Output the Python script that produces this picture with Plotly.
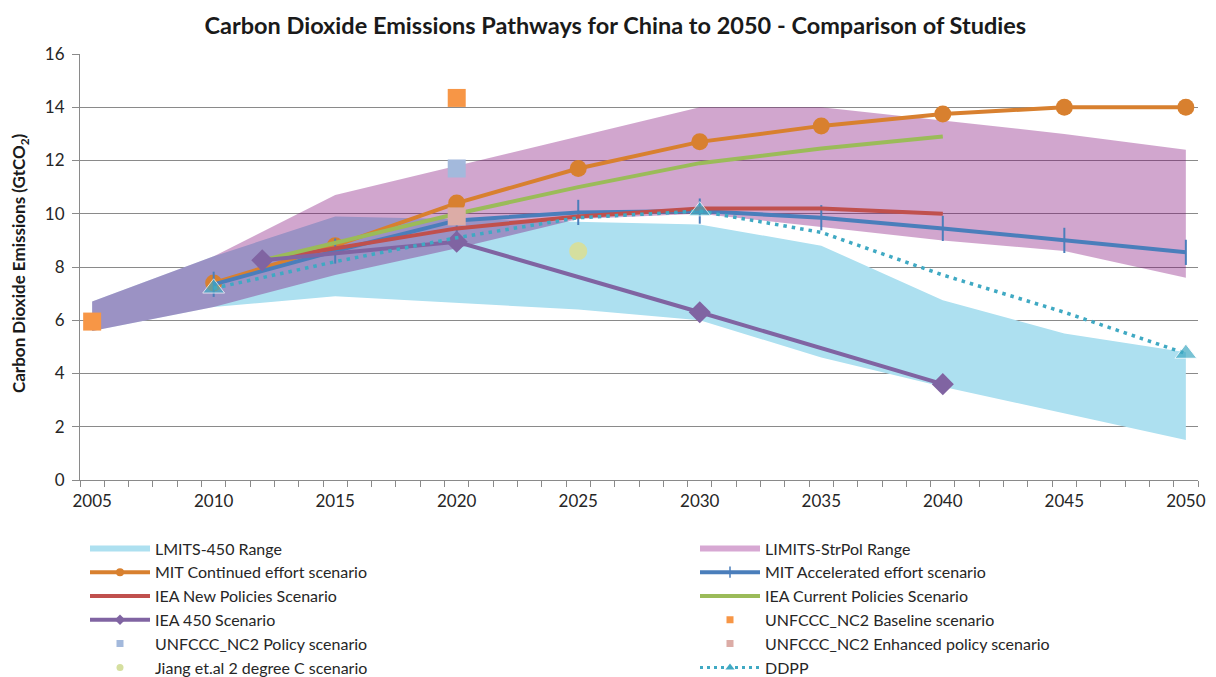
import plotly.graph_objects as go

# ---------------- data ----------------
years5 = [2005, 2010, 2015, 2020, 2025, 2030, 2035, 2040, 2045, 2050]

lmits450_low = [5.6, 6.5, 6.9, 6.65, 6.4, 6.0, 4.6, 3.5, 2.5, 1.5]
lmits450_high = [6.7, 8.4, 9.9, 9.8, 9.7, 9.6, 8.8, 6.75, 5.5, 4.8]

strpol_low = [5.6, 6.5, 7.7, 8.7, 9.8, 10.0, 9.5, 9.0, 8.6, 7.6]
strpol_high = [6.7, 8.4, 10.7, 11.8, 12.9, 14.0, 14.0, 13.5, 13.0, 12.4]

mit_years = [2010, 2015, 2020, 2025, 2030, 2035, 2040, 2045, 2050]
mit_continued = [7.4, 8.8, 10.4, 11.7, 12.7, 13.3, 13.75, 14.0, 14.0]
mit_accelerated = [7.35, 8.6, 9.75, 10.05, 10.1, 9.85, 9.45, 9.0, 8.55]

iea_years = [2012, 2020, 2025, 2030, 2035, 2040]
iea_new = [8.25, 9.45, 9.9, 10.2, 10.2, 10.0]
iea_current = [8.25, 10.0, 11.0, 11.9, 12.45, 12.9]

iea450_years = [2012, 2020, 2030, 2040]
iea450 = [8.25, 8.95, 6.3, 3.6]

unfccc_base_years = [2005, 2020]
unfccc_base = [5.95, 14.35]
unfccc_policy_years = [2020]
unfccc_policy = [11.7]
unfccc_enh_years = [2020]
unfccc_enh = [9.9]
jiang_years = [2025]
jiang = [8.6]

ddpp_years = [2010, 2015, 2020, 2025, 2030, 2035, 2040, 2045, 2050]
ddpp = [7.2, 8.2, 9.1, 9.85, 10.1, 9.3, 7.7, 6.3, 4.75]
ddpp_marked = [True, False, False, False, True, False, False, False, True]

x_tick_years = [2005, 2010, 2015, 2020, 2025, 2030, 2035, 2040, 2045, 2050]

# ---------------- styles ----------------
C_BLUE_AREA = "#ade0f0"
C_PINK_AREA = "rgba(122,0,114,0.35)"
C_MIT_C = "#d8802f"
C_MIT_A = "#4a7ebb"
C_IEA_N = "#c0504d"
C_IEA_C = "#9bbb59"
C_IEA_450 = "#8064a2"
C_UN_B = "#f79646"
C_UN_P = "#a3b9dc"
C_UN_E = "#dcaca6"
C_JIANG = "#d5df9f"
C_DDPP = "#3fa9c3"
FONT = "Lato"

fig = go.Figure()

# range areas
fig.add_trace(go.Scatter(x=years5, y=lmits450_low, mode="lines", line=dict(width=0),
                         showlegend=False, hoverinfo="skip"))
fig.add_trace(go.Scatter(x=years5, y=lmits450_high, mode="lines", line=dict(width=0),
                         fill="tonexty", fillcolor=C_BLUE_AREA, showlegend=False))
fig.add_trace(go.Scatter(x=years5, y=strpol_low, mode="lines", line=dict(width=0),
                         showlegend=False, hoverinfo="skip"))
fig.add_trace(go.Scatter(x=years5, y=strpol_high, mode="lines", line=dict(width=0),
                         fill="tonexty", fillcolor=C_PINK_AREA, showlegend=False))

# lines
fig.add_trace(go.Scatter(x=mit_years, y=mit_continued, mode="lines+markers",
                         line=dict(color=C_MIT_C, width=4),
                         marker=dict(symbol="circle", size=17, color=C_MIT_C),
                         showlegend=False))
fig.add_trace(go.Scatter(x=mit_years, y=mit_accelerated, mode="lines+markers",
                         line=dict(color=C_MIT_A, width=4),
                         marker=dict(symbol="line-ns-open", size=18,
                                     line=dict(color=C_MIT_A, width=2)),
                         showlegend=False))
fig.add_trace(go.Scatter(x=iea_years, y=iea_new, mode="lines",
                         line=dict(color=C_IEA_N, width=4), showlegend=False))
fig.add_trace(go.Scatter(x=iea_years, y=iea_current, mode="lines",
                         line=dict(color=C_IEA_C, width=4), showlegend=False))
fig.add_trace(go.Scatter(x=iea450_years, y=iea450, mode="lines+markers",
                         line=dict(color=C_IEA_450, width=4),
                         marker=dict(symbol="diamond", size=17, color=C_IEA_450),
                         showlegend=False))
fig.add_trace(go.Scatter(x=unfccc_base_years, y=unfccc_base, mode="markers",
                         marker=dict(symbol="square", size=18, color=C_UN_B), showlegend=False))
fig.add_trace(go.Scatter(x=unfccc_policy_years, y=unfccc_policy, mode="markers",
                         marker=dict(symbol="square", size=18, color=C_UN_P), showlegend=False))
fig.add_trace(go.Scatter(x=unfccc_enh_years, y=unfccc_enh, mode="markers",
                         marker=dict(symbol="square", size=18, color=C_UN_E), showlegend=False))
fig.add_trace(go.Scatter(x=jiang_years, y=jiang, mode="markers",
                         marker=dict(symbol="circle", size=18, color=C_JIANG), showlegend=False))
fig.add_trace(go.Scatter(x=ddpp_years, y=ddpp, mode="lines+markers",
                         line=dict(color=C_DDPP, width=3.5, dash="3.5px,5px"),
                         marker=dict(symbol="triangle-up",
                                     size=[19 if m else 0 for m in ddpp_marked],
                                     color=C_DDPP),
                         showlegend=False))

# legend entries: left column -> legend, right column -> legend2
def leg(name, which, **kw):
    fig.add_trace(go.Scatter(x=[None], y=[None], name=name, showlegend=True,
                             legend=which, **kw))

leg("LMITS-450 Range", "legend", mode="none", fill="toself", fillcolor=C_BLUE_AREA)
leg("MIT Continued effort scenario", "legend", mode="lines+markers",
    line=dict(color=C_MIT_C, width=4), marker=dict(size=8, color=C_MIT_C))
leg("IEA New Policies Scenario", "legend", mode="lines", line=dict(color=C_IEA_N, width=4))
leg("IEA 450 Scenario", "legend", mode="lines+markers", line=dict(color=C_IEA_450, width=4),
    marker=dict(symbol="diamond", size=8, color=C_IEA_450))
leg("UNFCCC_NC2 Policy scenario", "legend", mode="markers",
    marker=dict(symbol="square", size=7, color=C_UN_P))
leg("Jiang et.al 2 degree C scenario", "legend", mode="markers",
    marker=dict(symbol="circle", size=7, color=C_JIANG))

leg("LIMITS-StrPol Range", "legend2", mode="none", fill="toself", fillcolor="#d7a8d3")
leg("MIT Accelerated effort scenario", "legend2", mode="lines+markers",
    line=dict(color=C_MIT_A, width=4),
    marker=dict(symbol="line-ns-open", size=8, line=dict(color=C_MIT_A, width=1.5)))
leg("IEA Current Policies Scenario", "legend2", mode="lines", line=dict(color=C_IEA_C, width=4))
leg("UNFCCC_NC2 Baseline scenario", "legend2", mode="markers",
    marker=dict(symbol="square", size=7, color=C_UN_B))
leg("UNFCCC_NC2 Enhanced policy scenario", "legend2", mode="markers",
    marker=dict(symbol="square", size=7, color=C_UN_E))
leg("DDPP", "legend2", mode="lines+markers", line=dict(color=C_DDPP, width=3, dash="3px,4px"),
    marker=dict(symbol="triangle-up", size=8, color=C_DDPP))

AX_GRAY = "#8a8a8a"
LEG_COMMON = dict(orientation="v", xanchor="left", yanchor="top",
                  xref="container", yref="container", traceorder="normal",
                  itemwidth=60, font=dict(family=FONT, size=16, color="#262626"),
                  bgcolor="rgba(0,0,0,0)", borderwidth=0)

fig.update_layout(
    width=1216, height=677,
    margin=dict(l=80, r=18, t=54, b=197, autoexpand=False),
    paper_bgcolor="white", plot_bgcolor="white",
    font=dict(family=FONT, size=17, color="#262626"),
    title=dict(text="<b>Carbon Dioxide Emissions Pathways for China to 2050 - Comparison of Studies</b>",
               x=0.506, xanchor="center", y=0.962, yanchor="middle",
               font=dict(family=FONT, size=23.5, color="#1a1a1a")),
    xaxis=dict(range=[2004.5, 2050.5], tickmode="array", tickvals=x_tick_years,
               ticks="", showgrid=False, zeroline=False, tickangle=0,
               showline=True, linecolor=AX_GRAY, linewidth=1,
               minor=dict(ticks="outside", tick0=2004.5, dtick=1, ticklen=6,
                          tickcolor=AX_GRAY, showgrid=False),
               tickfont=dict(size=17), ticklabelstandoff=6),
    yaxis=dict(range=[0, 16], dtick=2, tick0=0, showgrid=True, gridcolor=AX_GRAY, gridwidth=1,
               zeroline=False, showline=True, linecolor=AX_GRAY, linewidth=1,
               ticks="outside", ticklen=7, tickcolor=AX_GRAY,
               tickfont=dict(size=17), ticklabelstandoff=4),
    legend=dict(x=85 / 1216, y=1 - 531.5 / 677, **LEG_COMMON),
    legend2=dict(x=695 / 1216, y=1 - 531.5 / 677, **LEG_COMMON),
    annotations=[dict(text="<b>Carbon Dioxide Emissions (GtCO<sub>2</sub>)</b>",
                      textangle=-90, xref="paper", yref="paper",
                      x=(20 - 80) / 1118, y=(480 - 263) / 426,
                      xanchor="center", yanchor="middle", showarrow=False,
                      font=dict(family=FONT, size=17, color="#1a1a1a"))],
)

fig.write_html("out.html")
